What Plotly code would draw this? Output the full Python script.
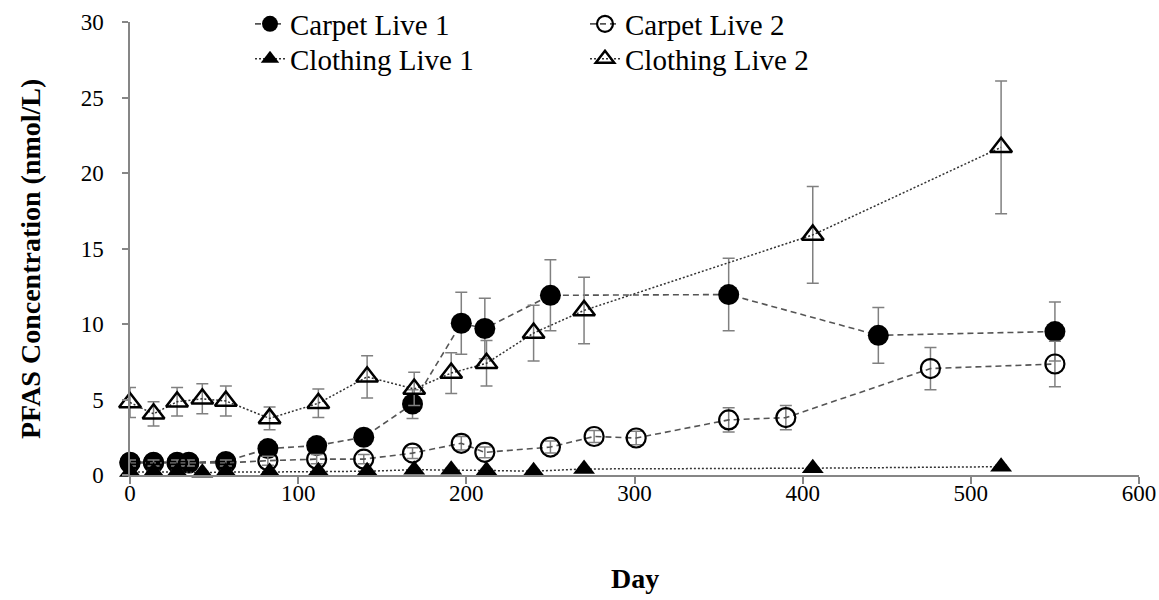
import plotly.graph_objects as go

# ---------------- data ----------------
carpet1_day = [0, 14, 28, 35, 57, 82, 111, 139, 168, 197, 211, 250, 356, 445, 550]
carpet1_val = [0.85, 0.85, 0.85, 0.85, 0.9, 1.75, 1.95, 2.5, 4.7, 10.05, 9.7, 11.9, 11.95, 9.25, 9.5]
carpet1_err = [0.2, 0.2, 0.2, 0.2, 0.2, 0.3, 0.3, 0.3, 0.95, 2.05, 2.0, 2.35, 2.4, 1.85, 1.95]

carpet2_day = [0, 14, 28, 35, 57, 82, 111, 139, 168, 197, 211, 250, 276, 301, 356, 390, 476, 550]
carpet2_val = [0.8, 0.8, 0.8, 0.8, 0.8, 0.95, 1.05, 1.05, 1.45, 2.1, 1.5, 1.85, 2.55, 2.45, 3.65, 3.8, 7.05, 7.35]
carpet2_err = [0.2, 0.2, 0.2, 0.2, 0.2, 0.3, 0.3, 0.3, 0.35, 0.45, 0.35, 0.4, 0.4, 0.45, 0.8, 0.8, 1.4, 1.5]

clothing_day = [0, 14, 28, 43, 57, 83, 112, 141, 169, 191, 212, 240, 270, 406, 518]
clothing1_val = [0.2, 0.2, 0.2, 0.15, 0.2, 0.2, 0.25, 0.25, 0.35, 0.35, 0.3, 0.25, 0.4, 0.45, 0.55]
clothing1_err = [0.1, 0.1, 0.1, 0.1, 0.1, 0.1, 0.1, 0.1, 0.1, 0.1, 0.1, 0.1, 0.1, 0.1, 0.1]
clothing2_val = [4.8, 4.05, 4.85, 5.05, 4.9, 3.75, 4.75, 6.5, 5.7, 6.75, 7.4, 9.4, 10.9, 15.9, 21.7]
clothing2_err = [1.0, 0.8, 0.95, 1.0, 1.0, 0.75, 0.95, 1.4, 1.1, 1.35, 1.5, 1.85, 2.2, 3.2, 4.4]

x_ticks = [0, 100, 200, 300, 400, 500, 600]
y_ticks = [0, 5, 10, 15, 20, 25, 30]

FONT = "Liberation Serif, Times New Roman, serif"
LINE_C = "#555555"
ERR_C = "#808080"

W, H = 1159, 600
ML, MR, MT, MB = 130, 20, 22, 125
PW, PH = W - ML - MR, H - MT - MB

def err(arr):
    return dict(type="data", array=arr, visible=True, color=ERR_C, thickness=1.5, width=6)

fig = go.Figure()
fig.add_trace(go.Scatter(
    x=carpet1_day, y=carpet1_val, name="Carpet Live 1", mode="lines+markers",
    line=dict(color=LINE_C, width=1.6, dash="6px,4px"),
    marker=dict(symbol="circle", size=21, color="black"),
    error_y=err(carpet1_err), cliponaxis=False, legend="legend"))
fig.add_trace(go.Scatter(
    x=carpet2_day, y=carpet2_val, name="Carpet Live 2", mode="lines+markers",
    line=dict(color=LINE_C, width=1.6, dash="6px,4px"),
    marker=dict(symbol="circle-open", size=19, color="black", line=dict(width=2.2, color="black")),
    error_y=err(carpet2_err), cliponaxis=False, legend="legend2"))
fig.add_trace(go.Scatter(
    x=clothing_day, y=clothing1_val, name="Clothing Live 1", mode="lines+markers",
    line=dict(color="#333333", width=1.5, dash="2px,2px"),
    marker=dict(symbol="triangle-up", size=19, color="black"),
    error_y=err(clothing1_err), cliponaxis=False, legend="legend3"))
fig.add_trace(go.Scatter(
    x=clothing_day, y=clothing2_val, name="Clothing Live 2", mode="lines+markers",
    line=dict(color="#333333", width=1.5, dash="2px,2px"),
    marker=dict(symbol="triangle-up-open", size=19, color="black", line=dict(width=2.5, color="black")),
    error_y=err(clothing2_err), cliponaxis=False, legend="legend4"))

leg_common = dict(xref="container", yref="container", xanchor="left", yanchor="middle",
                  bgcolor="rgba(0,0,0,0)", font=dict(family=FONT, size=29, color="black"),
                  itemsizing="trace", tracegroupgap=0, orientation="v")

ROW1, ROW2 = 24, 59
COL1, COL2 = 250, 585

fig.update_layout(
    template="none",
    width=W, height=H,
    margin=dict(l=ML, r=MR, t=MT, b=MB, autoexpand=False),
    paper_bgcolor="white", plot_bgcolor="white",
    font=dict(family=FONT, color="black"),
    showlegend=True,
    legend=dict(x=COL1 / W, y=1 - ROW1 / H, **leg_common),
    legend2=dict(x=COL2 / W, y=1 - ROW1 / H, **leg_common),
    legend3=dict(x=COL1 / W, y=1 - ROW2 / H, **leg_common),
    legend4=dict(x=COL2 / W, y=1 - ROW2 / H, **leg_common),
    xaxis=dict(range=[0, 600], tickvals=x_ticks, ticktext=[str(v) for v in x_ticks],
               showline=True, linecolor="#868686", linewidth=1.5, automargin=False,
               ticks="outside", ticklen=7, tickcolor="#868686", tickwidth=1.5,
               showgrid=False, zeroline=False, ticklabelstandoff=-10,
               tickfont=dict(family=FONT, size=23, color="black")),
    yaxis=dict(range=[0, 30], tickvals=y_ticks, ticktext=[str(v) for v in y_ticks],
               showline=True, linecolor="#868686", linewidth=1.5, automargin=False,
               ticks="outside", ticklen=6, tickcolor="#868686", tickwidth=1.5,
               showgrid=False, zeroline=False, ticklabelstandoff=14,
               tickfont=dict(family=FONT, size=23, color="black")),
    annotations=[
        dict(text="<b>Day</b>", xref="paper", yref="paper",
             x=(635 - ML) / PW, y=(H - MB - 578) / PH, xanchor="center", yanchor="middle",
             showarrow=False, font=dict(family=FONT, size=28, color="black")),
        dict(text="<b>PFAS Concentration (nmol/L)</b>", xref="paper", yref="paper",
             x=(30 - ML) / PW, y=(H - MB - 259) / PH, xanchor="center", yanchor="middle", textangle=-90,
             showarrow=False, font=dict(family=FONT, size=28, color="black")),
    ],
)

fig.write_html("out.html")
